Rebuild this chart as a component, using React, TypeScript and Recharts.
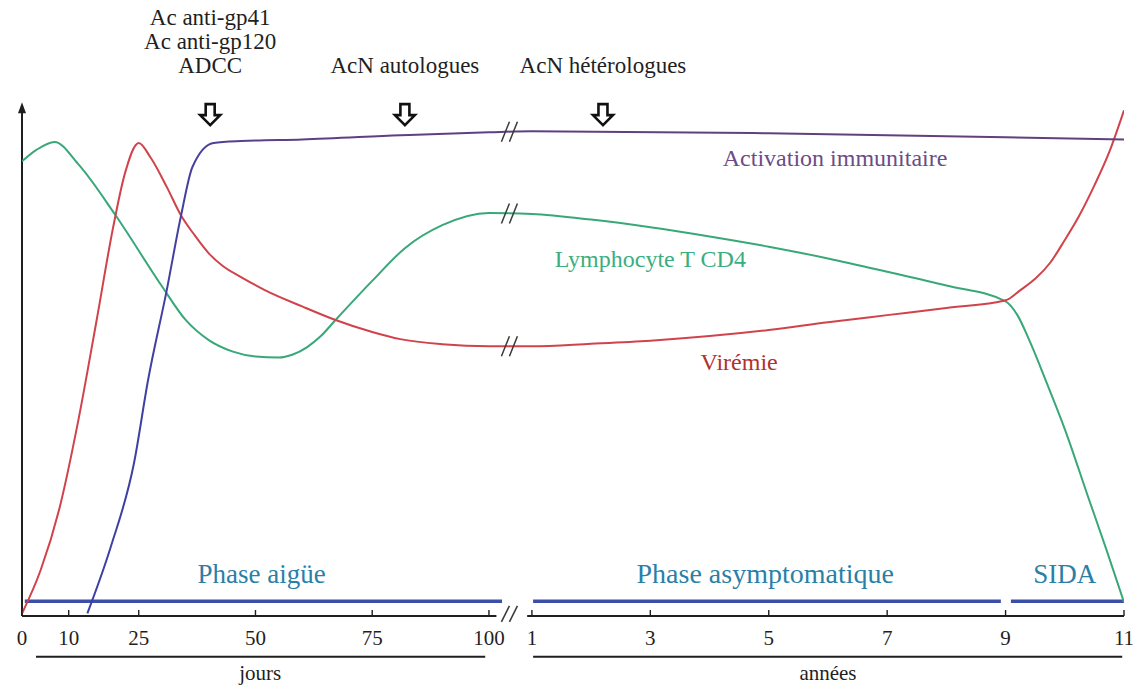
import React from "react";
import { LineChart, Line, XAxis, YAxis, ReferenceLine, ReferenceDot } from "recharts";

// tick labels
const dayTicks = [0, 10, 25, 50, 75, 100];
const yearTicks = [1, 3, 5, 7, 9, 11];

// Lymphocyte T CD4 (relative level)
const cd4Days = [0, 3, 7, 12, 20, 30, 35, 40, 45, 50, 55, 58, 61, 64, 67, 75, 82, 90, 100];
const cd4DayLevel = [89, 91.2, 92.8, 88.5, 78.5, 64.5, 58, 54, 51.8, 50.8, 50.6, 51.2, 52.6, 54.8, 57.8, 65.6, 72, 76.5, 78.9];
const cd4Years = [1, 2, 3, 4, 5, 6, 7, 8, 9, 9.2, 9.4, 9.7, 10, 10.4, 10.7, 11];
const cd4YearLevel = [78.7, 77.6, 76.1, 74.3, 72.3, 70, 67.4, 64.7, 61.6, 58.9, 54, 45.5, 36.6, 23.1, 13.1, 2.7];

// Virémie
const vlDays = [0, 4, 8, 12, 16, 19.5, 22, 25, 27.5, 31, 34, 37, 40, 43, 47, 52, 60, 67, 75, 81, 90, 100];
const vlDayLevel = [0.5, 9, 21, 38, 58, 76, 86.5, 92.6, 89.8, 84, 78.5, 74.5, 71, 68.5, 66.3, 63.8, 60.6, 58, 55.6, 54.2, 53.2, 52.8];
const vlYears = [1, 2, 3, 4, 5, 6, 7, 8, 9, 9.25, 9.5, 9.75, 10, 10.25, 10.5, 10.75, 11];
const vlYearLevel = [52.8, 53.3, 53.9, 54.8, 56, 57.5, 58.9, 60.3, 61.8, 63.8, 66, 69.1, 73.6, 78.5, 84.3, 90.8, 99];

// Activation immunitaire
const imDays = [14, 19, 24, 27, 31, 34, 36.5, 41, 47, 60, 81, 100];
const imDayLevel = [0.5, 13.5, 30, 46.2, 63.8, 78.1, 87.9, 92.6, 93, 93.3, 94.1, 94.7];
const imYears = [1, 5, 9, 11];
const imYearLevel = [94.9, 94.5, 93.7, 93.3];

// the day scale, then a break, then the year scale
const GAP = 9.2;
const YEAR_UNIT = 12.68;
const dayPos = (d: number) => d;
const yearPos = (y: number) => 100 + GAP + (y - 1) * YEAR_UNIT;
const BREAK_POS = (dayPos(100) + yearPos(1)) / 2;
const X_MAX = yearPos(11);

const toSeries = (days: number[], dv: number[], years: number[], yv: number[]) => [
  ...days.map((d, i) => ({ pos: dayPos(d), v: dv[i] })),
  ...years.map((y, i) => ({ pos: yearPos(y), v: yv[i] })),
];
const atBreak = (dv: number[], yv: number[]) => (dv[dv.length - 1] + yv[0]) / 2;

const cd4Data = toSeries(cd4Days, cd4DayLevel, cd4Years, cd4YearLevel);
const vlData = toSeries(vlDays, vlDayLevel, vlYears, vlYearLevel);
const imData = toSeries(imDays, imDayLevel, imYears, imYearLevel);

const tickPositions = [...dayTicks.map(dayPos), ...yearTicks.map(yearPos)];
const tickLabels = [...dayTicks, ...yearTicks].map(String);

const SERIF = "Liberation Serif, DejaVu Serif, serif";
const INK = "#1f1f1f";

const AxisTick = (p: any) => {
  const i = tickPositions.findIndex((t) => Math.abs(t - p.payload.value) < 1e-6);
  return (
    <g>
      <line x1={p.x} x2={p.x} y1={p.y - 6} y2={p.y} stroke={INK} strokeWidth={1.4} />
      <text x={p.x} y={p.y + 29} textAnchor="middle" style={{ fontFamily: SERIF }} fontSize={21} fill={INK}>
        {tickLabels[i]}
      </text>
    </g>
  );
};

const textShape = (text: string, color: string, size: number) => (p: any) => (
  <text x={p.cx} y={p.cy} textAnchor="middle" style={{ fontFamily: SERIF }} fontSize={size} fill={color}>
    {text}
  </text>
);

const slashes = (h: number) => (p: any) => (
  <g stroke="#3a3a3a" strokeWidth={1.5}>
    <line x1={p.cx - 9} y1={p.cy + h} x2={p.cx - 1} y2={p.cy - h} />
    <line x1={p.cx - 1} y1={p.cy + h} x2={p.cx + 7} y2={p.cy - h} />
  </g>
);

const arrowWithText = (lines: string[]) => (p: any) => {
  const { cx, cy } = p;
  return (
    <g>
      <path
        d={`M${cx},${cy} L${cx - 10},${cy - 10} L${cx - 4.5},${cy - 10} L${cx - 4.5},${cy - 21} L${cx + 4.5},${cy - 21} L${cx + 4.5},${cy - 10} L${cx + 10},${cy - 10} Z`}
        fill="#fff"
        stroke="#111"
        strokeWidth={2.6}
      />
      {lines.map((l, k) => (
        <text
          key={l}
          x={cx}
          y={cy - 52 - (lines.length - 1 - k) * 24}
          textAnchor="middle"
          style={{ fontFamily: SERIF }}
          fontSize={23}
          fill={INK}
        >
          {l}
        </text>
      ))}
    </g>
  );
};

const upArrow = (p: any) => (
  <path d={`M${p.cx},${p.cy - 3} L${p.cx - 4},${p.cy + 8} L${p.cx + 4},${p.cy + 8} Z`} fill={INK} />
);

const PHASE = "#2b7fa6";
const BAR = "#3b4ea8";

export default function App() {
  return (
    <div style={{ position: "absolute", left: 0, top: 0, width: 1136, height: 686, background: "#fff" }}>
      <LineChart width={1136} height={686} margin={{ top: 3, right: 12, bottom: 0, left: 22 }}>
        <defs>
          <linearGradient id="imGrad" x1="0" y1="0" x2="1" y2="0">
            <stop offset="0" stopColor="#3a3fa8" />
            <stop offset="0.1" stopColor="#45409f" />
            <stop offset="0.17" stopColor="#5e3f84" />
            <stop offset="1" stopColor="#62407a" />
          </linearGradient>
        </defs>
        <XAxis
          type="number"
          dataKey="pos"
          domain={[0, X_MAX]}
          ticks={tickPositions}
          interval={0}
          axisLine={false}
          tickLine={false}
          tickSize={0}
          tickMargin={0}
          height={70}
          tick={(p: any) => <AxisTick {...p} />}
          allowDataOverflow
        />
        <YAxis type="number" domain={[0, 120]} hide allowDataOverflow />

        {/* axes */}
        <ReferenceLine segment={[{ x: 0, y: 0 }, { x: 0, y: 100 }]} stroke={INK} strokeWidth={2} />
        <ReferenceDot x={0} y={100} r={0} shape={upArrow} />
        <ReferenceLine segment={[{ x: dayPos(0), y: 0 }, { x: dayPos(101.6), y: 0 }]} stroke={INK} strokeWidth={2} />
        <ReferenceLine segment={[{ x: yearPos(0.92), y: 0 }, { x: yearPos(11), y: 0 }]} stroke={INK} strokeWidth={2} />
        <ReferenceDot x={BREAK_POS} y={0.4} r={0} shape={slashes(8)} />

        {/* phases */}
        <ReferenceLine segment={[{ x: dayPos(0.6), y: 2.9 }, { x: dayPos(102.8), y: 2.9 }]} stroke={BAR} strokeWidth={3.5} />
        <ReferenceLine segment={[{ x: yearPos(1.02), y: 2.9 }, { x: yearPos(8.92), y: 2.9 }]} stroke={BAR} strokeWidth={3.5} />
        <ReferenceLine segment={[{ x: yearPos(9.09), y: 2.9 }, { x: yearPos(11), y: 2.9 }]} stroke={BAR} strokeWidth={3.5} />
        <ReferenceDot x={dayPos(51.3)} y={6.5} r={0} shape={textShape("Phase aigüe", PHASE, 27)} />
        <ReferenceDot x={yearPos(4.94)} y={6.5} r={0} shape={textShape("Phase asymptomatique", PHASE, 28)} />
        <ReferenceDot x={yearPos(10.0)} y={6.5} r={0} shape={textShape("SIDA", PHASE, 27)} />

        {/* jours / années brackets */}
        <ReferenceLine segment={[{ x: dayPos(3), y: -8 }, { x: dayPos(99.2), y: -8 }]} stroke={INK} strokeWidth={2} ifOverflow="visible" />
        <ReferenceLine segment={[{ x: yearPos(1.02), y: -8 }, { x: yearPos(10.97), y: -8 }]} stroke={INK} strokeWidth={2} ifOverflow="visible" />
        <ReferenceDot x={dayPos(51)} y={-12.5} r={0} ifOverflow="visible" shape={textShape("jours", INK, 21)} />
        <ReferenceDot x={yearPos(6)} y={-12.5} r={0} ifOverflow="visible" shape={textShape("années", INK, 21)} />

        {/* series */}
        <Line data={cd4Data} dataKey="v" type="monotone" stroke="#38a878" strokeWidth={2} dot={false} isAnimationActive={false} />
        <Line data={vlData} dataKey="v" type="monotone" stroke="#d1434b" strokeWidth={2} dot={false} isAnimationActive={false} />
        <Line data={imData} dataKey="v" type="monotone" stroke="url(#imGrad)" strokeWidth={2} dot={false} isAnimationActive={false} />

        {/* break marks */}
        <ReferenceDot x={BREAK_POS} y={atBreak(imDayLevel, imYearLevel)} r={0} shape={slashes(10)} />
        <ReferenceDot x={BREAK_POS} y={atBreak(cd4DayLevel, cd4YearLevel)} r={0} shape={slashes(10)} />
        <ReferenceDot x={BREAK_POS} y={atBreak(vlDayLevel, vlYearLevel)} r={0} shape={slashes(10)} />

        {/* curve labels */}
        <ReferenceDot x={yearPos(6.12)} y={88.1} r={0} shape={textShape("Activation immunitaire", "#6b4c86", 24)} />
        <ReferenceDot x={yearPos(3.0)} y={68.3} r={0} shape={textShape("Lymphocyte T CD4", "#3aae80", 24)} />
        <ReferenceDot x={yearPos(4.5)} y={48.1} r={0} shape={textShape("Virémie", "#b3312c", 24)} />

        {/* antibody responses */}
        <ReferenceDot x={dayPos(40.3)} y={96.1} r={0} shape={arrowWithText(["Ac anti-gp41", "Ac anti-gp120", "ADCC"])} />
        <ReferenceDot x={dayPos(82)} y={96.1} r={0} shape={arrowWithText(["AcN autologues"])} />
        <ReferenceDot x={yearPos(2.2)} y={96.1} r={0} shape={arrowWithText(["AcN hétérologues"])} />
      </LineChart>
    </div>
  );
}
